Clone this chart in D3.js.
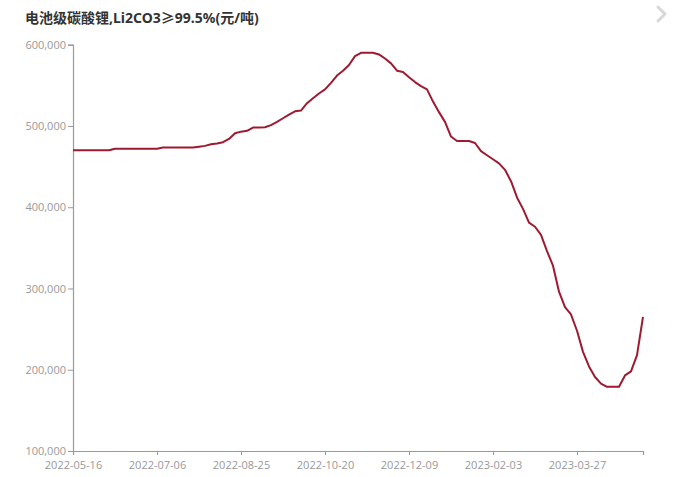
<!DOCTYPE html>
<html>
<head>
<meta charset="utf-8">
<script src="https://cdn.jsdelivr.net/npm/d3@7"></script>
<style>
  html, body { margin: 0; padding: 0; background: #fff; }
  svg { display: block; }
</style>
</head>
<body>
<svg id="chart" width="690" height="477"></svg>
<script>
const title = "电池级碳酸锂,Li2CO3≥99.5%(元/吨)";
const tickLabels = ["2022-05-16", "2022-07-06", "2022-08-25", "2022-10-20", "2022-12-09", "2023-02-03", "2023-03-27"];
const pointsPerTick = 14;
const yTicks = [100000, 200000, 300000, 400000, 500000, 600000];
const prices = [
  470000, 470000, 470000, 470000, 470000, 470000, 470000, 472000, 472000, 472000,
  472000, 472000, 472000, 472000, 472000, 473500, 473500, 473500, 473500, 473500,
  473500, 474500, 475500, 477500, 478500, 480000, 484000, 491000, 493000, 494000,
  498000, 498000, 498500, 501000, 505000, 509500, 514000, 518000, 519000, 528000,
  534000, 540000, 545000, 553000, 562000, 568000, 575000, 586000, 590000, 590000,
  590000, 588000, 583000, 577000, 568000, 566500, 560000, 554000, 549000, 545000,
  530000, 517000, 505000, 487000, 481500, 481500, 481500, 479000, 469000, 464000,
  459000, 454000, 446000, 432000, 412000, 398000, 381000, 376000, 366000, 346000,
  328000, 296000, 277000, 268000, 248000, 222000, 204000, 191000, 183000, 179000,
  179000, 179000, 193000, 198000, 218000, 265000
];

(function () {
const svg = d3.select("#chart");
const mLeft = 73, mRight = 643, mTop = 44.7, mBottom = 451;

const x = d3.scaleLinear().domain([0, prices.length - 1]).range([mLeft, mRight]);
const y = d3.scaleLinear().domain([100000, 600000]).range([mBottom, mTop]);

svg.append("rect").attr("width", 690).attr("height", 477).attr("fill", "#fff");

// title
svg.append("text")
  .attr("x", 25).attr("y", 23)
  .attr("font-family", "'Noto Sans', 'Noto Sans CJK SC', sans-serif")
  .attr("font-size", 14).attr("font-weight", "bold")
  .attr("fill", "#333")
  .text(title);

// faint chevron at top-right
svg.append("path")
  .attr("d", "M658,7 L665,14 L658,21")
  .attr("fill", "none").attr("stroke", "#d8d8d8").attr("stroke-width", 3)
  .attr("stroke-linecap", "round").attr("stroke-linejoin", "round");

const axisColor = "#9a9a9a";
const labelColor = "#999";
const fontFam = "'Open Sans', 'DejaVu Sans', sans-serif";

// y axis
const yAxis = d3.axisLeft(y).tickValues(yTicks).tickSize(5).tickPadding(2)
  .tickFormat(d3.format(","));
const gy = svg.append("g").attr("transform", `translate(${mLeft},0)`).call(yAxis);
gy.select(".domain").attr("stroke", axisColor).attr("stroke-width", 1.2);
gy.selectAll(".tick line").attr("stroke", axisColor);
gy.selectAll(".tick text").attr("fill", labelColor).attr("font-size", 11).attr("font-family", fontFam);

// x axis
const xTickIdx = tickLabels.map((_, i) => i * pointsPerTick);
const xAxis = d3.axisBottom(x).tickValues(xTickIdx).tickSize(4).tickPadding(6)
  .tickFormat((d, i) => tickLabels[i]);
const gx = svg.append("g").attr("transform", `translate(0,${mBottom})`).call(xAxis);
gx.select(".domain").attr("stroke", axisColor).attr("stroke-width", 1.2);
gx.selectAll(".tick line").attr("stroke", axisColor);
gx.selectAll(".tick text").attr("fill", labelColor).attr("font-size", 11).attr("font-family", fontFam);

// line
const line = d3.line().x((d, i) => x(i)).y(d => y(d));
svg.append("path")
  .datum(prices)
  .attr("d", line)
  .attr("fill", "none")
  .attr("stroke", "#9e1a30")
  .attr("stroke-width", 2)
  .attr("stroke-linejoin", "round");
})();
</script>
</body>
</html>
